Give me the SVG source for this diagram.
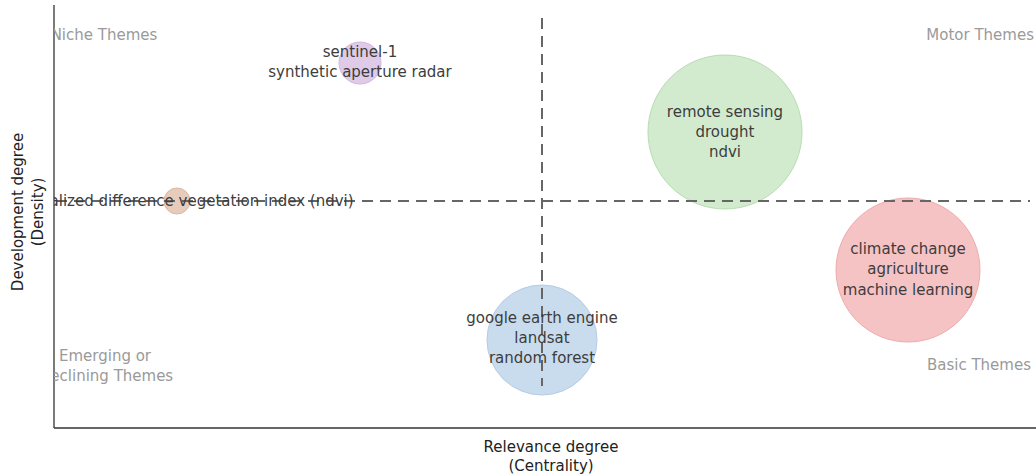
<svg xmlns="http://www.w3.org/2000/svg" width="1036" height="475" viewBox="0 0 1036 475">
<style>
.t{font-family:"DejaVu Sans",Verdana,sans-serif;font-size:15px;fill:#3d3d3d;text-anchor:middle}
.q{font-family:"DejaVu Sans",Verdana,sans-serif;font-size:15px;fill:#9a9a9a}
.ax{font-family:"DejaVu Sans",Verdana,sans-serif;font-size:15px;fill:#222;text-anchor:middle}
.dash{stroke:#666;stroke-width:2;stroke-dasharray:11,7;fill:none}
</style>
<defs><clipPath id="plot"><rect x="54" y="0" width="982" height="428"/></clipPath></defs>
<rect width="1036" height="475" fill="#fff"/>
<g id="nodes" clip-path="url(#plot)">
<g id="n-purple"><circle cx="360" cy="63" r="21" fill="#dcc4e6" fill-opacity="0.9" stroke="#d2b6de"/></g>
<g id="n-brown"><circle cx="177" cy="201" r="13" fill="#e6c6b4" fill-opacity="0.9" stroke="#dbb6a2"/></g>
<g id="n-green"><circle cx="725" cy="132" r="77" fill="#d2ebcf" stroke="#b8dcb2"/></g>
<g id="n-red"><circle cx="908" cy="270" r="72" fill="#f6c3c4" stroke="#eeaaac"/></g>
<g id="n-blue"><circle cx="542" cy="340" r="55" fill="#c9dcee" stroke="#b4cce4"/></g>
</g>
<g id="connectors">
<line class="dash" x1="542" y1="18" x2="542" y2="386"/>
<line class="dash" x1="56" y1="201" x2="1030" y2="201"/>
</g>
<g id="axes" stroke="#333" stroke-width="1.3">
<line x1="54" y1="5" x2="54" y2="428"/>
<line x1="54" y1="428" x2="1036" y2="428"/>
</g>
<g id="labels" clip-path="url(#plot)">
<text class="t" x="360" y="57">sentinel-1</text>
<text class="t" x="360" y="77">synthetic aperture radar</text>
<text class="t" x="182" y="206">normalized difference vegetation index (ndvi)</text>
<text class="t" x="725" y="117">remote sensing</text>
<text class="t" x="725" y="137">drought</text>
<text class="t" x="725" y="157">ndvi</text>
<text class="t" x="908" y="254">climate change</text>
<text class="t" x="908" y="274">agriculture</text>
<text class="t" x="908" y="295">machine learning</text>
<text class="t" x="542" y="323">google earth engine</text>
<text class="t" x="542" y="343">landsat</text>
<text class="t" x="542" y="363">random forest</text>
<text class="q" x="104" y="40" text-anchor="middle">Niche Themes</text>
<text class="q" x="1034" y="40" text-anchor="end">Motor Themes</text>
<text class="q" x="105" y="361" text-anchor="middle">Emerging or</text>
<text class="q" x="106" y="381" text-anchor="middle">Declining Themes</text>
<text class="q" x="1031" y="370" text-anchor="end">Basic Themes</text>
</g>
<g id="axis-titles">
<text class="ax" x="551" y="452">Relevance degree</text>
<text class="ax" x="551" y="471">(Centrality)</text>
<text class="ax" transform="translate(23,212) rotate(-90)">Development degree</text>
<text class="ax" transform="translate(43,212) rotate(-90)">(Density)</text>
</g>
</svg>
